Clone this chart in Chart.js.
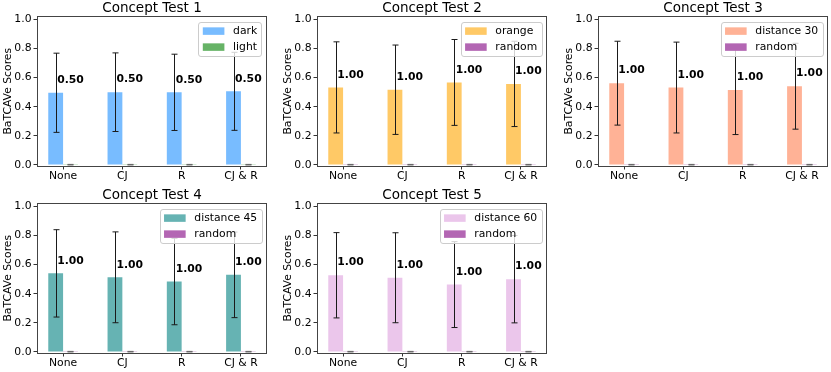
<!DOCTYPE html>
<html>
<head>
<meta charset="utf-8">
<script src="https://cdn.jsdelivr.net/npm/chart.js@4.4.1/dist/chart.umd.min.js"></script>
<style>
html, body { margin: 0; padding: 0; background: #fff; overflow: hidden; }
#page { position: relative; width: 831px; height: 372px; }
.panel { position: absolute; width: 267px; height: 186px; }
</style>
</head>
<body>
<div id="page">
	<div class="panel" style="left:0px;top:0px"><canvas id="c1"></canvas></div>
	<div class="panel" style="left:280px;top:0px"><canvas id="c2"></canvas></div>
	<div class="panel" style="left:561px;top:0px"><canvas id="c3"></canvas></div>
	<div class="panel" style="left:0px;top:187px"><canvas id="c4"></canvas></div>
	<div class="panel" style="left:280px;top:187px"><canvas id="c5"></canvas></div>
</div>
<script>
// -------- data
const categories = ['None', 'CJ', 'R', 'CJ & R'];
const yTicks = [0, 0.2, 0.4, 0.6, 0.8, 1.0];

// concept test 1 : dark vs light
const t1Mean = [0.496, 0.500, 0.499, 0.506];
const t1Std  = [0.272, 0.270, 0.262, 0.268];
const t1Text = ['0.50', '0.50', '0.50', '0.50'];
// concept test 2 : orange vs random
const t2Mean = [0.533, 0.517, 0.567, 0.557];
const t2Std  = [0.313, 0.307, 0.295, 0.293];
const t2Text = ['1.00', '1.00', '1.00', '1.00'];
// concept test 3 : distance 30 vs random
const t3Mean = [0.562, 0.532, 0.515, 0.541];
const t3Std  = [0.288, 0.312, 0.306, 0.295];
const t3Text = ['1.00', '1.00', '1.00', '1.00'];
// concept test 4 : distance 45 vs random
const t4Mean = [0.540, 0.513, 0.484, 0.530];
const t4Std  = [0.300, 0.312, 0.297, 0.294];
const t4Text = ['1.00', '1.00', '1.00', '1.00'];
// concept test 5 : distance 60 vs random
const t5Mean = [0.527, 0.510, 0.463, 0.500];
const t5Std  = [0.293, 0.309, 0.295, 0.300];
const t5Text = ['1.00', '1.00', '1.00', '1.00'];
// the random / counter concept is ~0 everywhere
const randMean = [0.002, 0.002, 0.002, 0.002];
const randStd  = [0.002, 0.002, 0.002, 0.002];

const FONT = "'DejaVu Sans', sans-serif";
const FS = 10.8;
Chart.defaults.font.family = FONT;
Chart.defaults.color = '#000';

function pts(arr){
	return arr.map(function(v, i){ return {x: i, y: v}; });
}

function make_chart(id, title, conceptLabel, randLabel, conceptColor, randColor, means, stds, texts){
	// error bars + score text
	var barExtras = {
		id: 'barExtras',
		afterDatasetsDraw: function(chart){
			var ctx = chart.ctx;
			var ys = chart.scales.y;
			ctx.save();
			ctx.lineWidth = 1;
			chart.data.datasets.forEach(function(ds, di){
				var meta = chart.getDatasetMeta(di);
				// tiny random bars: caps come out greyish in the original
				ctx.strokeStyle = di === 0 ? '#1a1a1a' : '#666';
				meta.data.forEach(function(bar, i){
					var x = Math.round(bar.x) + 0.5;
					var v = ds.data[i].y, e = ds.errors[i];
					var yTop = ys.getPixelForValue(v + e);
					var yBot = ys.getPixelForValue(v - e);
					ctx.beginPath();
					ctx.moveTo(x, yTop); ctx.lineTo(x, yBot);
					ctx.moveTo(x - 3, yTop); ctx.lineTo(x + 3, yTop);
					ctx.moveTo(x - 3, yBot); ctx.lineTo(x + 3, yBot);
					ctx.stroke();
				});
			});
			// score labels, centred over the second bar of each group
			var meta1 = chart.getDatasetMeta(1);
			ctx.fillStyle = '#000';
			ctx.font = 'bold ' + FS + 'px ' + FONT;
			ctx.textAlign = 'center';
			ctx.textBaseline = 'alphabetic';
			texts.forEach(function(t, i){
				var x = meta1.data[i].x;
				var y = ys.getPixelForValue(means[i] + 0.05) - 2.5;
				ctx.fillText(t, x, y);
			});
			ctx.restore();
		}
	};
	// axes frame and boxed legend
	var frameLegend = {
		id: 'frameLegend',
		afterDraw: function(chart){
			var ctx = chart.ctx;
			var a = chart.chartArea;
			ctx.save();
			ctx.strokeStyle = '#444';
			ctx.lineWidth = 1;
			var l = Math.floor(a.left) + 0.5, t = Math.floor(a.top) + 0.5;
			var r = Math.floor(a.right) - 0.5, b = Math.floor(a.bottom) + 0.5;
			ctx.strokeRect(l, t, r - l, b - t);

			ctx.font = FS + 'px ' + FONT;
			var items = chart.data.datasets.map(function(d){ return {label: d.label, color: d.backgroundColor}; });
			var tw = Math.max.apply(null, items.map(function(it){ return ctx.measureText(it.label).width; }));
			var pad = 4.4, hl = 2 * FS, hh = 7.5, htp = 0.8 * FS, rowH = 9.6, ls = 6.4, bap = 5.4;
			var w = pad * 2 + hl + htp + tw;
			var h = pad * 2 + rowH * 2 + ls;
			var bx = a.right - bap - w, by = a.top + bap;
			ctx.beginPath();
			ctx.roundRect(Math.round(bx) + 0.5, Math.round(by) + 0.5, Math.round(w), Math.round(h), 2.5);
			ctx.fillStyle = 'rgba(255,255,255,0.8)';
			ctx.fill();
			ctx.strokeStyle = '#cccccc';
			ctx.stroke();
			ctx.textAlign = 'left';
			ctx.textBaseline = 'middle';
			items.forEach(function(it, i){
				var cy = by + pad + rowH / 2 + i * (rowH + ls);
				ctx.fillStyle = it.color;
				ctx.fillRect(bx + pad, cy - hh / 2, hl, hh);
				ctx.fillStyle = '#000';
				ctx.fillText(it.label, bx + pad + hl + htp, cy + 0.5);
			});
			ctx.restore();
		}
	};

	return new Chart(document.getElementById(id), {
		type: 'bar',
		data: {
			datasets: [
				{label: conceptLabel, data: pts(means), errors: stds, backgroundColor: conceptColor},
				{label: randLabel, data: pts(randMean), errors: randStd, backgroundColor: randColor}
			]
		},
		options: {
			responsive: true,
			maintainAspectRatio: false,
			animation: false,
			events: [],
			categoryPercentage: 0.5,
			barPercentage: 1.0,
			layout: {padding: 0},
			plugins: {
				legend: {display: false},
				tooltip: {enabled: false},
				title: {
					display: true,
					text: title,
					fullSize: false,
					color: '#000',
					font: {size: 13.5, weight: 'normal', lineHeight: 1.1},
					padding: {top: 1, bottom: 0.65}
				}
			},
			scales: {
				x: {
					type: 'linear',
					offset: false,
					min: -0.44,
					max: 3.44,
					afterBuildTicks: function(s){ s.ticks = categories.map(function(c, i){ return {value: i}; }); },
					afterFit: function(s){ s.height = 20; },
					ticks: {
						callback: function(v){ return categories[v]; },
						font: {size: FS},
						color: '#000',
						padding: 0,
						autoSkip: false,
						maxRotation: 0
					},
					grid: {drawOnChartArea: false, offset: false, tickLength: 3.5, color: '#333'},
					border: {display: false}
				},
				y: {
					min: -0.007,
					max: 1.02,
					afterBuildTicks: function(s){ s.ticks = yTicks.map(function(v){ return {value: v}; }); },
					afterFit: function(s){ s.width = 37; },
					ticks: {
						callback: function(v){ return v.toFixed(1); },
						font: {size: FS},
						color: '#000',
						padding: 2
					},
					grid: {drawOnChartArea: false, tickLength: 3.5, color: '#333'},
					border: {display: false},
					title: {
						display: true,
						text: 'BaTCAVe Scores',
						color: '#000',
						font: {size: FS},
						padding: {top: 2, bottom: 0}
					}
				}
			}
		},
		plugins: [barExtras, frameLegend]
	});
}

make_chart('c1', 'Concept Test 1', 'dark', 'light', '#78bcff', '#66b366', t1Mean, t1Std, t1Text);
make_chart('c2', 'Concept Test 2', 'orange', 'random', '#ffc966', '#b366b3', t2Mean, t2Std, t2Text);
make_chart('c3', 'Concept Test 3', 'distance 30', 'random', '#ffb296', '#b366b3', t3Mean, t3Std, t3Text);
make_chart('c4', 'Concept Test 4', 'distance 45', 'random', '#66b3b3', '#b366b3', t4Mean, t4Std, t4Text);
make_chart('c5', 'Concept Test 5', 'distance 60', 'random', '#ebc6eb', '#b366b3', t5Mean, t5Std, t5Text);
</script>
</body>
</html>
